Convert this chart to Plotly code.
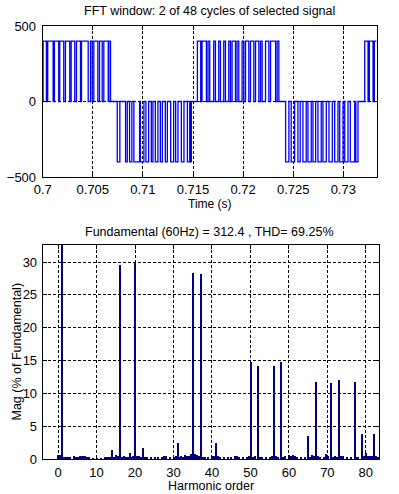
import plotly.graph_objects as go

# ---------------- data ----------------
# Top: PWM signal switching edges (ms after t = 0.7 s), per half-cycle.
pos_half_1_edges = [0.04, 0.37, 0.50, 1.04, 1.17, 1.60, 1.70, 2.10, 2.27, 2.70, 2.84, 3.20,
                    3.37, 3.77, 3.87, 4.54, 4.77, 4.94, 5.10, 5.50, 5.67, 5.94, 6.10, 6.54,
                    6.60, 6.77]
neg_half_1_edges = [7.44, 7.70, 8.27, 8.44, 8.67, 8.90, 9.10, 9.67, 9.75, 10.10, 10.30, 10.57,
                    10.84, 11.00, 11.24, 11.50, 11.74, 11.94, 12.24, 12.44, 12.77, 13.07,
                    13.27, 13.50, 13.84, 14.10, 14.44, 14.67, 14.75, 14.84]
pos_half_2_edges = [15.44, 15.77, 15.90, 16.34, 16.50, 16.67, 17.07, 17.24, 17.57, 17.74,
                    18.07, 18.24, 18.57, 18.74, 18.90, 19.24, 19.40, 19.57, 19.90, 20.07,
                    20.24, 20.57, 20.74, 21.07, 21.24, 21.57, 21.74, 21.90, 22.24, 22.57,
                    22.74, 23.24, 23.40, 23.57]
neg_half_2_edges = [24.24, 24.57, 24.80, 25.14, 25.47, 25.70, 25.97, 26.30, 26.47, 26.80,
                    26.97, 27.24, 27.47, 27.80, 27.97, 28.30, 28.57, 28.90, 29.14, 29.47,
                    29.64, 29.97, 30.14, 30.47, 30.70, 31.14, 31.25, 31.47]
pos_half_3_edges = [32.14, 32.47, 32.60, 32.97, 33.10]
half_levels = [400, -400, 400, -400, 400]
t_start_s = 0.7
t_end_ms = 33.3333

time_ticks = [0.7, 0.705, 0.71, 0.715, 0.72, 0.725, 0.73]
time_tick_labels = ["0.7", "0.705", "0.71", "0.715", "0.72", "0.725", "0.73"]
signal_ticks = [-500, 0, 500]

# Bottom: harmonic spectrum (% of fundamental)
harm_order = [0, 0.5, 1, 1.5, 2, 2.5, 3, 4, 4.5, 5, 5.5, 6, 6.5, 7, 7.5, 8, 9, 10, 11, 12,
              12.5, 13, 13.5, 14, 14.5, 15, 15.5, 16, 16.5, 17, 17.5, 18, 18.5, 19, 19.5,
              20, 20.5, 21, 21.5, 22, 22.5, 23, 24, 25, 26, 27, 27.5, 28, 29, 30, 30.5, 31,
              31.5, 32, 32.5, 33, 33.5, 34, 34.5, 35, 35.5, 36, 36.5, 37, 37.5, 38, 39, 40,
              40.5, 41, 41.5, 42, 43, 44, 45, 46, 46.5, 47, 48, 49, 49.5, 50, 50.5, 51, 52,
              52.5, 53, 54, 55, 55.5, 56, 56.5, 57, 58, 58.5, 59, 60, 60.5, 61, 61.5, 62,
              63, 64, 65, 65.5, 66, 66.5, 67, 67.5, 68, 69, 69.5, 70, 71, 71.5, 72, 72.5,
              73, 73.5, 74, 75, 76, 77, 77.5, 78, 79, 79.5, 80, 80.5, 81, 81.5, 82, 82.5, 83]
harm_mag = [0.6, 0.6, 100.0, 0.3, 0.2, 0.3, 0.2, 0.4, 0.2, 0.3, 0.4, 0.5, 0.5, 0.4, 0.3, 0.2,
            0.15, 0.1, 0.15, 0.2, 0.3, 0.2, 0.3, 1.4, 0.3, 0.6, 0.4, 29.6, 0.3, 0.4, 0.3, 0.3,
            0.85, 0.3, 0.4, 29.8, 0.5, 0.4, 0.3, 1.7, 0.3, 0.2, 0.25, 0.2, 0.3, 0.2, 0.5, 0.4,
            0.3, 0.3, 0.4, 2.4, 0.3, 0.4, 0.3, 0.6, 0.5, 0.5, 0.7, 28.4, 0.8, 0.6, 0.4, 28.2,
            0.3, 0.3, 0.2, 0.4, 0.4, 2.5, 0.5, 0.3, 0.2, 0.2, 0.2, 0.5, 0.4, 0.3, 0.2, 0.3,
            0.4, 14.8, 0.3, 0.4, 14.2, 0.3, 0.3, 0.2, 0.3, 0.5, 14.1, 0.4, 0.3, 14.8, 0.3,
            0.5, 0.6, 0.5, 0.6, 0.4, 0.3, 0.2, 0.3, 3.5, 0.3, 0.6, 0.5, 11.7, 0.5, 0.3, 0.3,
            0.8, 0.4, 11.6, 0.3, 0.5, 0.3, 12.0, 0.5, 0.4, 0.3, 0.3, 11.7, 0.3, 0.3, 3.8,
            0.4, 0.9, 0.4, 0.5, 0.4, 3.8, 0.5, 0.3]
harm_ticks = [0, 10, 20, 30, 40, 50, 60, 70, 80]
mag_ticks = [0, 5, 10, 15, 20, 25, 30]

top_title = "FFT window: 2 of 48 cycles of selected signal"
bottom_title = "Fundamental (60Hz) = 312.4 , THD= 69.25%"
top_xlabel = "Time (s)"
bottom_xlabel = "Harmonic order"
bottom_ylabel = "Mag (% of Fundamental)"

# ---------------- build step signal ----------------
t_vals = [t_start_s]
v_vals = [0]
for edges, lvl in zip([pos_half_1_edges, neg_half_1_edges, pos_half_2_edges,
                       neg_half_2_edges, pos_half_3_edges], half_levels):
    cur = 0
    for e in edges:
        cur = lvl if cur == 0 else 0
        t_vals.append(t_start_s + e / 1000.0)
        v_vals.append(cur)
t_vals.append(t_start_s + t_end_ms / 1000.0)
v_vals.append(v_vals[-1])

# ---------------- figure ----------------
W, H = 399, 494
FONT = "Liberation Sans, Arial, sans-serif"


def px(x):
    return x / W


def py(y):
    return 1 - y / H


fig = go.Figure()
fig.add_trace(go.Scatter(x=t_vals, y=v_vals, mode="lines",
                         line=dict(color="#0000ff", width=1.3, shape="hv"),
                         xaxis="x", yaxis="y", showlegend=False, hoverinfo="skip"))
fig.add_trace(go.Bar(x=harm_order, y=harm_mag, width=0.28,
                     marker=dict(color="#000080", line=dict(width=0)),
                     xaxis="x2", yaxis="y2", showlegend=False, hoverinfo="skip"))

axis_common = dict(
    showline=True, linecolor="black", linewidth=1, mirror="ticks",
    ticks="inside", ticklen=4, tickcolor="black", automargin=False,
    showgrid=True, gridcolor="black", gridwidth=1, griddash="3px,2px",
    zeroline=False, tickfont=dict(family=FONT, size=13, color="black"),
)

fig.update_layout(
    template="none",
    width=W, height=H, margin=dict(l=0, r=0, t=0, b=0, autoexpand=False),
    paper_bgcolor="white", plot_bgcolor="white",
    font=dict(family=FONT, size=12, color="black"),
    bargap=0, showlegend=False,
    xaxis=dict(domain=[px(42.7), px(376.7)], range=[0.7, 0.7 + t_end_ms / 1000.0],
               tickvals=time_ticks, ticktext=time_tick_labels, anchor="y",
               ticklabelstandoff=0, **axis_common),
    yaxis=dict(domain=[py(177), py(26)], range=[-500, 500], tickvals=signal_ticks,
               anchor="x", ticklabelstandoff=3, **axis_common),
    xaxis2=dict(domain=[px(42.7), px(379.3)], range=[-4, 83.5], tickvals=harm_ticks,
                anchor="y2", ticklabelstandoff=1, **axis_common),
    yaxis2=dict(domain=[py(459), py(245)], range=[0, 32.6], tickvals=mag_ticks,
                anchor="x2", ticklabelstandoff=2, **axis_common),
)

ann = [
    dict(text=top_title, x=px(209.7), y=py(11.5), size=12.5, angle=0),
    dict(text=bottom_title, x=px(209.7), y=py(232), size=12.5, angle=0),
    dict(text=top_xlabel, x=px(209.7), y=py(204), size=12, angle=0),
    dict(text=bottom_xlabel, x=px(211), y=py(486), size=12.5, angle=0),
    dict(text=bottom_ylabel, x=px(16.5), y=py(352), size=12.5, angle=-90),
]
for a in ann:
    fig.add_annotation(text=a["text"], x=a["x"], y=a["y"], xref="paper", yref="paper",
                       xanchor="center", yanchor="middle", showarrow=False,
                       textangle=a["angle"],
                       font=dict(family=FONT, size=a["size"], color="black"))

fig.write_html(
    "out.html",
    config={"displayModeBar": False, "responsive": False},
    post_script="document.body.style.margin='0';"
                "document.documentElement.style.overflow='hidden';"
                "document.body.style.overflow='hidden';",
)
